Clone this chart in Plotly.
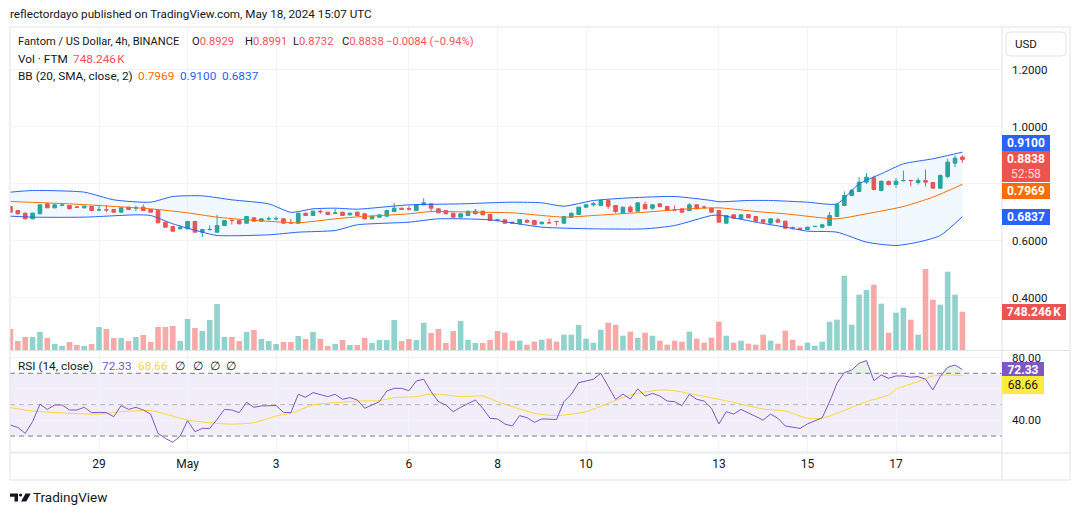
import plotly.graph_objects as go
import pandas as pd
import numpy as np

# ---------------- data ----------------
opens = [
    .7193, .7052, .6959, .6760, .6936, .7286, .7146, .7235, .7228, .7175,
    .7146, .7193, .7070, .7080, .7088, .6994, .7169, .7135, .7169, .7088,
    .7052, .6643, .6491, .6409, .6409, .6667, .6292, .6380, .6292, .6526,
    .6710, .6702, .6608, .6795, .6678, .6755, .6760, .6760, .6625, .6608,
    .6959, .6877, .7025, .6994, .6950, .6994, .6900, .6994, .6936, .6760,
    .6819, .6854, .7017, .7134, .7115, .7052, .7251, .7286, .7111, .7052,
    .6959, .6819, .6877, .6936, .7029, .6912, .6730, .6725, .6643, .6585,
    .6702, .6702, .6585, .6625, .6670, .6608, .6819, .6912, .7169, .7251,
    .7228, .7403, .7228, .6959, .7169, .7029, .7263, .7134, .7286, .7193,
    .7080, .7111, .7052, .7251, .7175, .7134, .7052, .6609, .6901, .6761,
    .6913, .6842, .6725, .6609, .6725, .6679, .6452, .6433, .6386, .6488,
    .6468, .6527, .6842, .7228, .7579, .7720, .8047, .8199, .7755, .8071,
    .7965, .8095, .8110, .8035, .8106, .8035, .7837, .8246, .8714, .8929]
highs = [
    .7220, .7076, .6975, .6975, .7262, .7321, .7286, .7275, .7245, .7205,
    .7225, .7205, .7251, .7251, .7100, .7160, .7180, .7228, .7263, .7100,
    .7065, .6655, .6500, .6526, .6680, .6680, .6395, .6526, .6900, .6715,
    .6737, .6715, .6855, .6819, .6772, .6842, .6842, .6772, .6760, .6970,
    .6970, .7040, .7088, .7005, .7111, .7005, .6970, .7005, .6950, .6865,
    .6912, .7065, .7321, .7146, .7205, .7263, .7485, .7298, .7123, .7065,
    .6970, .6950, .7040, .7111, .7040, .6925, .6740, .6737, .6655, .6750,
    .6760, .6715, .6655, .6760, .6680, .6855, .6970, .7180, .7286, .7345,
    .7415, .7415, .7240, .7180, .7228, .7333, .7368, .7263, .7310, .7205,
    .7228, .7123, .7310, .7263, .7228, .7146, .7065, .6890, .6915, .6915,
    .6925, .6855, .6737, .6775, .6796, .6690, .6492, .6445, .6480, .6510,
    .6585, .6995, .7276, .7720, .7813, .8223, .8363, .8281, .8094, .8106,
    .8187, .8456, .8129, .8199, .8492, .8047, .8316, .8866, .8983, .8991]
lows = [
    .6980, .6912, .6745, .6745, .6925, .7135, .7135, .7205, .7090, .7150,
    .7130, .7040, .7029, .6994, .6980, .6980, .7076, .7029, .7040, .6980,
    .6610, .6455, .6315, .6395, .6395, .6280, .6117, .6351, .6280, .6515,
    .6561, .6575, .6595, .6665, .6665, .6702, .6702, .6595, .6608, .6595,
    .6865, .6865, .6936, .6900, .6936, .6865, .6890, .6865, .6745, .6745,
    .6810, .6842, .7005, .7076, .7052, .7040, .7240, .7017, .6960, .6925,
    .6805, .6805, .6865, .6925, .6890, .6690, .6667, .6595, .6595, .6575,
    .6630, .6540, .6575, .6608, .6526, .6595, .6805, .6900, .7155, .7193,
    .7215, .7111, .6959, .6945, .6971, .7017, .7088, .7076, .7169, .7040,
    .7052, .6980, .7040, .7100, .7111, .6980, .6630, .6595, .6770, .6750,
    .6785, .6665, .6630, .6550, .6630, .6420, .6386, .6375, .6375, .6470,
    .6433, .6515, .6830, .7215, .7565, .7708, .7989, .7755, .7720, .7930,
    .7848, .8071, .7895, .7965, .7895, .7825, .7825, .8187, .8573, .8732]
closes = [
    .6994, .6936, .6760, .6959, .7251, .7146, .7251, .7245, .7111, .7169,
    .7205, .7052, .7076, .7070, .6994, .7146, .7088, .7150, .7052, .6994,
    .6620, .6468, .6327, .6468, .6667, .6292, .6386, .6390, .6526, .6702,
    .6700, .6585, .6842, .6678, .6760, .6765, .6768, .6608, .6615, .6959,
    .6877, .7029, .7010, .6912, .6965, .6877, .6959, .6877, .6760, .6854,
    .6900, .7052, .7134, .7088, .7105, .7251, .7321, .7134, .6971, .6936,
    .6819, .6936, .7029, .7029, .6900, .6702, .6722, .6608, .6608, .6737,
    .6643, .6550, .6643, .6618, .6665, .6842, .6959, .7169, .7251, .7286,
    .7403, .7205, .7017, .7169, .7017, .7321, .7111, .7251, .7193, .7052,
    .7072, .6994, .7251, .7111, .7165, .6994, .6643, .6878, .6784, .6901,
    .6796, .6679, .6644, .6761, .6644, .6433, .6445, .6386, .6468, .6495,
    .6550, .6878, .7264, .7579, .7755, .8047, .8223, .7790, .8082, .7965,
    .8082, .8106, .8100, .8106, .8047, .7837, .8281, .8749, .8889, .8838]
volumes_k = [
    410, 176, 254, 254, 352, 234, 117, 78, 156, 98,
    78, 117, 449, 410, 234, 234, 176, 254, 293, 156,
    449, 449, 469, 176, 606, 430, 371, 586, 899, 254,
    254, 176, 352, 391, 215, 176, 117, 156, 156, 274,
    215, 352, 215, 78, 117, 195, 98, 98, 234, 137,
    195, 195, 586, 176, 215, 195, 528, 332, 410, 137,
    371, 567, 195, 137, 137, 195, 371, 338, 182, 182,
    104, 162, 201, 221, 162, 299, 299, 489, 221, 143,
    397, 533, 494, 279, 358, 240, 338, 279, 182, 104,
    182, 162, 358, 221, 143, 240, 553, 279, 143, 182,
    123, 104, 299, 182, 123, 377, 201, 84, 143, 84,
    162, 553, 592, 1452, 494, 1081, 1172, 1276, 905, 338,
    729, 827, 592, 299, 1583, 983, 885, 1530, 1081, 748.246]
rsi = [
    37.0, 35.5, 31.7, 39.2, 50.2, 47.0, 49.8, 49.8, 46.6, 46.6,
    48.3, 44.9, 45.1, 44.9, 42.3, 49.4, 47.0, 48.3, 46.6, 44.0,
    31.7, 28.5, 26.0, 30.0, 39.8, 32.8, 34.9, 34.9, 40.6, 47.0,
    46.6, 44.9, 51.5, 48.3, 49.2, 49.4, 49.4, 45.1, 44.9, 56.6,
    54.7, 57.7, 56.2, 55.1, 56.6, 53.4, 54.5, 53.0, 47.7, 49.8,
    51.9, 58.7, 60.4, 60.4, 58.9, 65.1, 66.2, 58.3, 51.9, 49.8,
    45.5, 48.3, 50.9, 53.0, 47.7, 41.3, 40.9, 37.7, 36.4, 43.0,
    41.7, 38.7, 40.9, 40.9, 40.6, 51.9, 56.6, 64.0, 65.3, 66.2,
    70.0, 61.5, 53.4, 56.8, 53.6, 60.0, 55.5, 57.2, 55.5, 52.3,
    51.9, 49.4, 56.6, 53.4, 52.3, 47.7, 37.7, 45.5, 44.0, 47.0,
    44.9, 42.3, 40.2, 44.0, 41.3, 36.4, 35.5, 34.9, 37.7, 39.6,
    41.7, 51.9, 63.6, 70.4, 72.1, 76.4, 78.1, 65.3, 68.9, 66.8,
    68.3, 68.3, 67.5, 67.9, 66.2, 59.4, 67.9, 73.8, 75.3, 72.33]
rsi_ma_idx = [0, 3, 8, 12, 15, 19, 21, 24, 28, 30, 33, 36, 38, 41, 44, 47, 50, 52, 55, 57,
              59, 61, 64, 66, 71, 74, 78, 81, 84, 88, 90, 93, 98, 102, 105, 108, 110, 112,
              116, 119, 120, 123, 125, 127, 129]
rsi_ma_val = [48.1, 46.0, 44.5, 44.0, 45.5, 46.2, 44.0, 40.2, 38.1, 37.6, 38.5, 42.8, 44.5,
              49.8, 51.3, 52.3, 52.6, 54.5, 55.1, 56.8, 56.2, 55.1, 55.5, 51.9, 44.5, 43.0,
              45.5, 50.9, 56.2, 59.4, 58.9, 56.2, 51.5, 47.2, 46.0, 41.3, 41.3, 44.5, 51.9,
              56.2, 59.8, 64.7, 68.3, 68.9, 68.66]
bb_upper_idx = [0, 3, 10, 14, 19, 22, 26, 30, 35, 38, 41, 44, 47, 54, 61, 68, 72, 75, 79, 84,
                90, 95, 96, 100, 103, 108, 112, 115, 118, 121, 125, 128, 129]
bb_upper_val = [.7696, .7754, .7696, .7427, .7345, .7544, .7567, .7427, .7286, .6990, .7111,
                .7134, .7100, .7251, .7286, .7345, .7322, .7205, .7403, .7497, .7544, .7404,
                .7360, .7404, .7404, .7345, .7287, .7988, .8340, .8690, .8866, .9041, .9100]
bb_mid_idx = [0, 8, 12, 19, 24, 28, 32, 37, 39, 44, 47, 54, 57, 63, 68, 75, 79, 86, 92, 96,
              101, 105, 110, 112, 116, 121, 125, 129]
bb_mid_val = [.7368, .7286, .7228, .7111, .6971, .6819, .6725, .6643, .6620, .6760, .6830,
              .6936, .7017, .6994, .6971, .6819, .6877, .6994, .7111, .7146, .7018, .6936,
              .6795, .6760, .6936, .7193, .7521, .7969]
bb_lower_idx = [0, 3, 10, 17, 19, 22, 26, 28, 35, 39, 44, 47, 54, 58, 65, 72, 79, 86, 90, 95,
                96, 101, 105, 108, 112, 116, 120, 123, 126, 129]
bb_lower_val = [.6854, .6819, .6819, .6900, .6877, .6585, .6292, .6175, .6199, .6292, .6351,
                .6550, .6643, .6760, .6725, .6468, .6409, .6409, .6526, .6877, .6890, .6643,
                .6468, .6328, .6292, .5942, .5825, .5942, .6175, .6837]
tick_dates = ["2024-04-29", "2024-05-01", "2024-05-03", "2024-05-06", "2024-05-08",
              "2024-05-10", "2024-05-13", "2024-05-15", "2024-05-17"]
tick_labels = ["29", "May", "3", "6", "8", "10", "13", "15", "17"]
price_ticks = [0.4, 0.6, 0.8, 1.0, 1.2]
price_tick_text = ["0.4000", "0.6000", "", "1.0000", "1.2000"]
rsi_levels = [70, 50, 30]

# ---------------- geometry ----------------
W, H = 1080, 515
L, R, T, B = 10, 78, 27, 62
PW, PH = W - L - R, H - T - B


def pxx(px):
    return (px - L) / PW


def pxy(py):
    return (H - B - py) / PH


start = pd.Timestamp("2024-04-27 00:00")
times = [start + pd.Timedelta(hours=4 * i) for i in range(len(closes))]
ppd = 44.28
x_left = (pd.Timestamp("2024-04-29") - pd.Timedelta(days=(99 - 10) / ppd)).floor("s")
x_right = (pd.Timestamp("2024-05-17") + pd.Timedelta(days=(1002 - 896) / ppd)).floor("s")
price_range = [1 - (350 - 126.5) / 285, 1 + (126.5 - 27) / 285]
vol_range = [0, 323 * 19.54]
rsi_range = [19.2, 84.2]

GREEN, RED = "#26A69A", "#EF5350"
GRID = "#F0F3FA"
BORDER = "#E0E3EB"
TXT = "#131722"
FONT = "Roboto, Open Sans, sans-serif"

fig = go.Figure()

vol_colors = ["rgba(38,166,154,0.5)" if c >= o else "rgba(239,83,80,0.5)"
              for o, c in zip(opens, closes)]
fig.add_trace(go.Bar(x=times, y=volumes_k, marker=dict(color=vol_colors, line=dict(width=0)),
                     width=4 * 3600 * 1000 * 0.76, xaxis="x", yaxis="y2", hoverinfo="skip"))

sp = dict(shape="spline", smoothing=0.6)
fig.add_trace(go.Scatter(x=[times[i] for i in bb_upper_idx], y=bb_upper_val, mode="lines",
                         line=dict(color="#2962FF", width=1, **sp), xaxis="x", yaxis="y",
                         hoverinfo="skip"))
fig.add_trace(go.Scatter(x=[times[i] for i in bb_lower_idx], y=bb_lower_val, mode="lines",
                         line=dict(color="#2962FF", width=1, **sp), fill="tonexty",
                         fillcolor="rgba(33,150,243,0.06)", xaxis="x", yaxis="y",
                         hoverinfo="skip"))
fig.add_trace(go.Scatter(x=[times[i] for i in bb_mid_idx], y=bb_mid_val, mode="lines",
                         line=dict(color="#FF6D00", width=1, **sp), xaxis="x", yaxis="y",
                         hoverinfo="skip"))
fig.add_trace(go.Candlestick(
    x=times, open=opens, high=highs, low=lows, close=closes,
    increasing=dict(line=dict(color=GREEN, width=1), fillcolor=GREEN),
    decreasing=dict(line=dict(color=RED, width=1), fillcolor=RED),
    whiskerwidth=0, xaxis="x", yaxis="y", hoverinfo="skip"))

# RSI pane: level lines
for lvl in rsi_levels:
    col = "rgba(120,123,134,0.5)" if lvl == 50 else "#787B86"
    fig.add_trace(go.Scatter(x=[x_left, x_right], y=[lvl, lvl], mode="lines",
                             line=dict(color=col, width=1, dash="5px,4px"),
                             xaxis="x2", yaxis="y3", hoverinfo="skip"))
fig.add_trace(go.Scatter(x=times, y=[70] * len(rsi), mode="lines", line=dict(width=0),
                         xaxis="x2", yaxis="y3", hoverinfo="skip"))
fig.add_trace(go.Scatter(x=times, y=np.maximum(np.array(rsi), 70), mode="lines",
                         line=dict(width=0), fill="tonexty", fillcolor="rgba(76,175,80,0.15)",
                         xaxis="x2", yaxis="y3", hoverinfo="skip"))
fig.add_trace(go.Scatter(x=[times[i] for i in rsi_ma_idx], y=rsi_ma_val, mode="lines",
                         line=dict(color="#FDD835", width=1, **sp), xaxis="x2", yaxis="y3",
                         hoverinfo="skip"))
fig.add_trace(go.Scatter(x=times, y=rsi, mode="lines", line=dict(color="#7E57C2", width=1),
                         xaxis="x2", yaxis="y3", hoverinfo="skip"))

axis_common = dict(showline=False, zeroline=False, ticks="", gridcolor=GRID, gridwidth=1)
fig.update_layout(
    width=W, height=H, margin=dict(l=L, r=R, t=T, b=B, autoexpand=False),
    paper_bgcolor="white", plot_bgcolor="white", showlegend=False, boxgap=0.3,
    font=dict(family=FONT, size=12, color=TXT),
    xaxis=dict(domain=[0, 1], anchor="y", type="date", range=[x_left, x_right],
               tickvals=tick_dates, showticklabels=False, showgrid=True,
               rangeslider=dict(visible=False), **axis_common),
    xaxis2=dict(domain=[0, 1], anchor="y3", type="date", range=[x_left, x_right],
                tickvals=tick_dates, ticktext=tick_labels, showgrid=True,
                tickfont=dict(size=12, color=TXT), ticklabelstandoff=2, **axis_common),
    yaxis=dict(domain=[pxy(350), 1], anchor="x", range=price_range, side="right",
               tickvals=price_ticks, ticktext=price_tick_text, showgrid=True,
               tickfont=dict(size=11.5, color=TXT), ticklabelstandoff=9, **axis_common),
    yaxis2=dict(domain=[pxy(350), 1], anchor="x", overlaying="y", range=vol_range,
                visible=False),
    yaxis3=dict(domain=[0, pxy(351)], anchor="x2", range=rsi_range, side="right",
                tickvals=[20, 40, 60, 80], ticktext=["", "40.00", "", "80.00"], showgrid=True,
                tickfont=dict(size=11.5, color=TXT), ticklabelstandoff=9, **axis_common),
)

shapes = []
# RSI band
shapes.append(dict(type="rect", xref="paper", yref="y3", x0=0, x1=1, y0=30, y1=70,
                   fillcolor="rgba(126,87,194,0.1)", line=dict(width=0), layer="below"))
# frame and separators
shapes.append(dict(type="rect", xref="paper", yref="paper", x0=pxx(10), x1=pxx(1070),
                   y0=pxy(480), y1=pxy(27), line=dict(color=BORDER, width=1)))
shapes.append(dict(type="line", xref="paper", yref="paper", x0=1, x1=1, y0=pxy(480),
                   y1=pxy(27), line=dict(color=BORDER, width=1)))
for yy in (350.5, 453):
    shapes.append(dict(type="line", xref="paper", yref="paper", x0=pxx(10), x1=pxx(1070),
                       y0=pxy(yy), y1=pxy(yy), line=dict(color=BORDER, width=1)))


def rounded_rect(x0, y0, x1, y1, r):
    X = lambda v: pxx(v)
    Y = lambda v: pxy(v)
    return (f"M {X(x0 + r)} {Y(y0)} L {X(x1 - r)} {Y(y0)} Q {X(x1)} {Y(y0)} {X(x1)} {Y(y0 + r)} "
            f"L {X(x1)} {Y(y1 - r)} Q {X(x1)} {Y(y1)} {X(x1 - r)} {Y(y1)} "
            f"L {X(x0 + r)} {Y(y1)} Q {X(x0)} {Y(y1)} {X(x0)} {Y(y1 - r)} "
            f"L {X(x0)} {Y(y0 + r)} Q {X(x0)} {Y(y0)} {X(x0 + r)} {Y(y0)} Z")


shapes.append(dict(type="path", xref="paper", yref="paper",
                   path=rounded_rect(1006, 32, 1066, 56, 4),
                   line=dict(color=BORDER, width=1), fillcolor="rgba(0,0,0,0)"))


def poly(pts):
    return "M " + " L ".join(f"{pxx(a)} {pxy(b)}" for a, b in pts) + " Z"


# TradingView logo
shapes.append(dict(type="path", xref="paper", yref="paper",
                   path=poly([(10, 493.5), (18, 493.5), (18, 501.5), (14.5, 501.5),
                              (14.5, 496.8), (10, 496.8)]),
                   fillcolor=TXT, line=dict(width=0)))
shapes.append(dict(type="circle", xref="paper", yref="paper", x0=pxx(19.0), x1=pxx(22.2),
                   y0=pxy(496.6), y1=pxy(493.4), fillcolor=TXT, line=dict(width=0)))
shapes.append(dict(type="path", xref="paper", yref="paper",
                   path=poly([(25.5, 493.5), (30.8, 493.5), (26.3, 501.5), (21.0, 501.5)]),
                   fillcolor=TXT, line=dict(width=0)))
fig.update_layout(shapes=shapes)

ann = []
FS = 11.8
FS1 = 11.2


def text(x, y, s, size=FS, color=TXT):
    ann.append(dict(xref="paper", yref="paper", x=pxx(x), y=pxy(y), xanchor="left",
                    yanchor="middle", text=s, showarrow=False, borderpad=0,
                    font=dict(family=FONT, size=size, color=color)))


LRED = "#F7525F"
text(9, 14, "reflectordayo published on TradingView.com, May 18, 2024 15:07 UTC", 11.7)
text(17, 41.5, "Fantom / US Dollar, 4h, BINANCE", 11.1)
text(191, 41.5, f"O<span style='color:{LRED}'>0.8929</span>", FS1)
text(244, 41.5, f"H<span style='color:{LRED}'>0.8991</span>", FS1)
text(292, 41.5, f"L<span style='color:{LRED}'>0.8732</span>", FS1)
text(341, 41.5, f"C<span style='color:{LRED}'>0.8838</span>", FS1)
text(385, 41.5, "\u22120.0084 (\u22120.94%)", FS1, LRED)
text(17, 58.5, "Vol \u00b7 FTM")
text(72, 58.5, "748.246\u202fK", FS, LRED)
text(17, 75.5, "BB (20, SMA, close, 2)")
text(137, 75.5, "0.7969", FS, "#FF6D00")
text(179, 75.5, "0.9100", FS, "#2962FF")
text(221, 75.5, "0.6837", FS, "#2962FF")
text(17, 366, "RSI (14, close)")
text(101, 366, "72.33", FS, "#7E57C2")
text(137, 366, "68.66", FS, "#FDD835")
for xx in (174, 192, 209, 225):
    text(xx, 366, "\u2205")
text(32, 497.5, "TradingView", 13.5)
text(1014, 44, "USD", 11.5)


def tag(s, yref, yval, bg, fg="white", yshift=0, width=46, height=14, weight="bold"):
    ann.append(dict(xref="paper", x=1, xanchor="left", yref=yref, y=yval, yanchor="middle",
                    yshift=yshift, text=s, showarrow=False, bgcolor=bg, borderpad=1,
                    borderwidth=0, width=width, height=height, align="center",
                    font=dict(family=FONT, size=12, color=fg, weight=weight)))


tag("0.9100", "y", 0.9100, "#2962FF", yshift=9)
tag("0.8838<br><span style='font-weight:normal;color:rgba(255,255,255,0.8)'>52:58</span>",
    "y", 0.8838, RED, yshift=-7, height=29)
tag("0.7969", "y", 0.7969, "#FF6D00", yshift=-6.6)
tag("0.6837", "y", 0.6837, "#2962FF")
tag("748.246\u202fK", "y2", 748.246, RED, width=62)
tag("72.33", "y3", 72.33, "#7E57C2", yshift=0.5, width=40, height=13)
tag("68.66", "y3", 68.66, "#FFEB3B", fg=TXT, yshift=-9.6, width=40, height=16,
    weight="normal")
fig.update_layout(annotations=ann)

fig.write_html("out.html", config=dict(displayModeBar=False))
